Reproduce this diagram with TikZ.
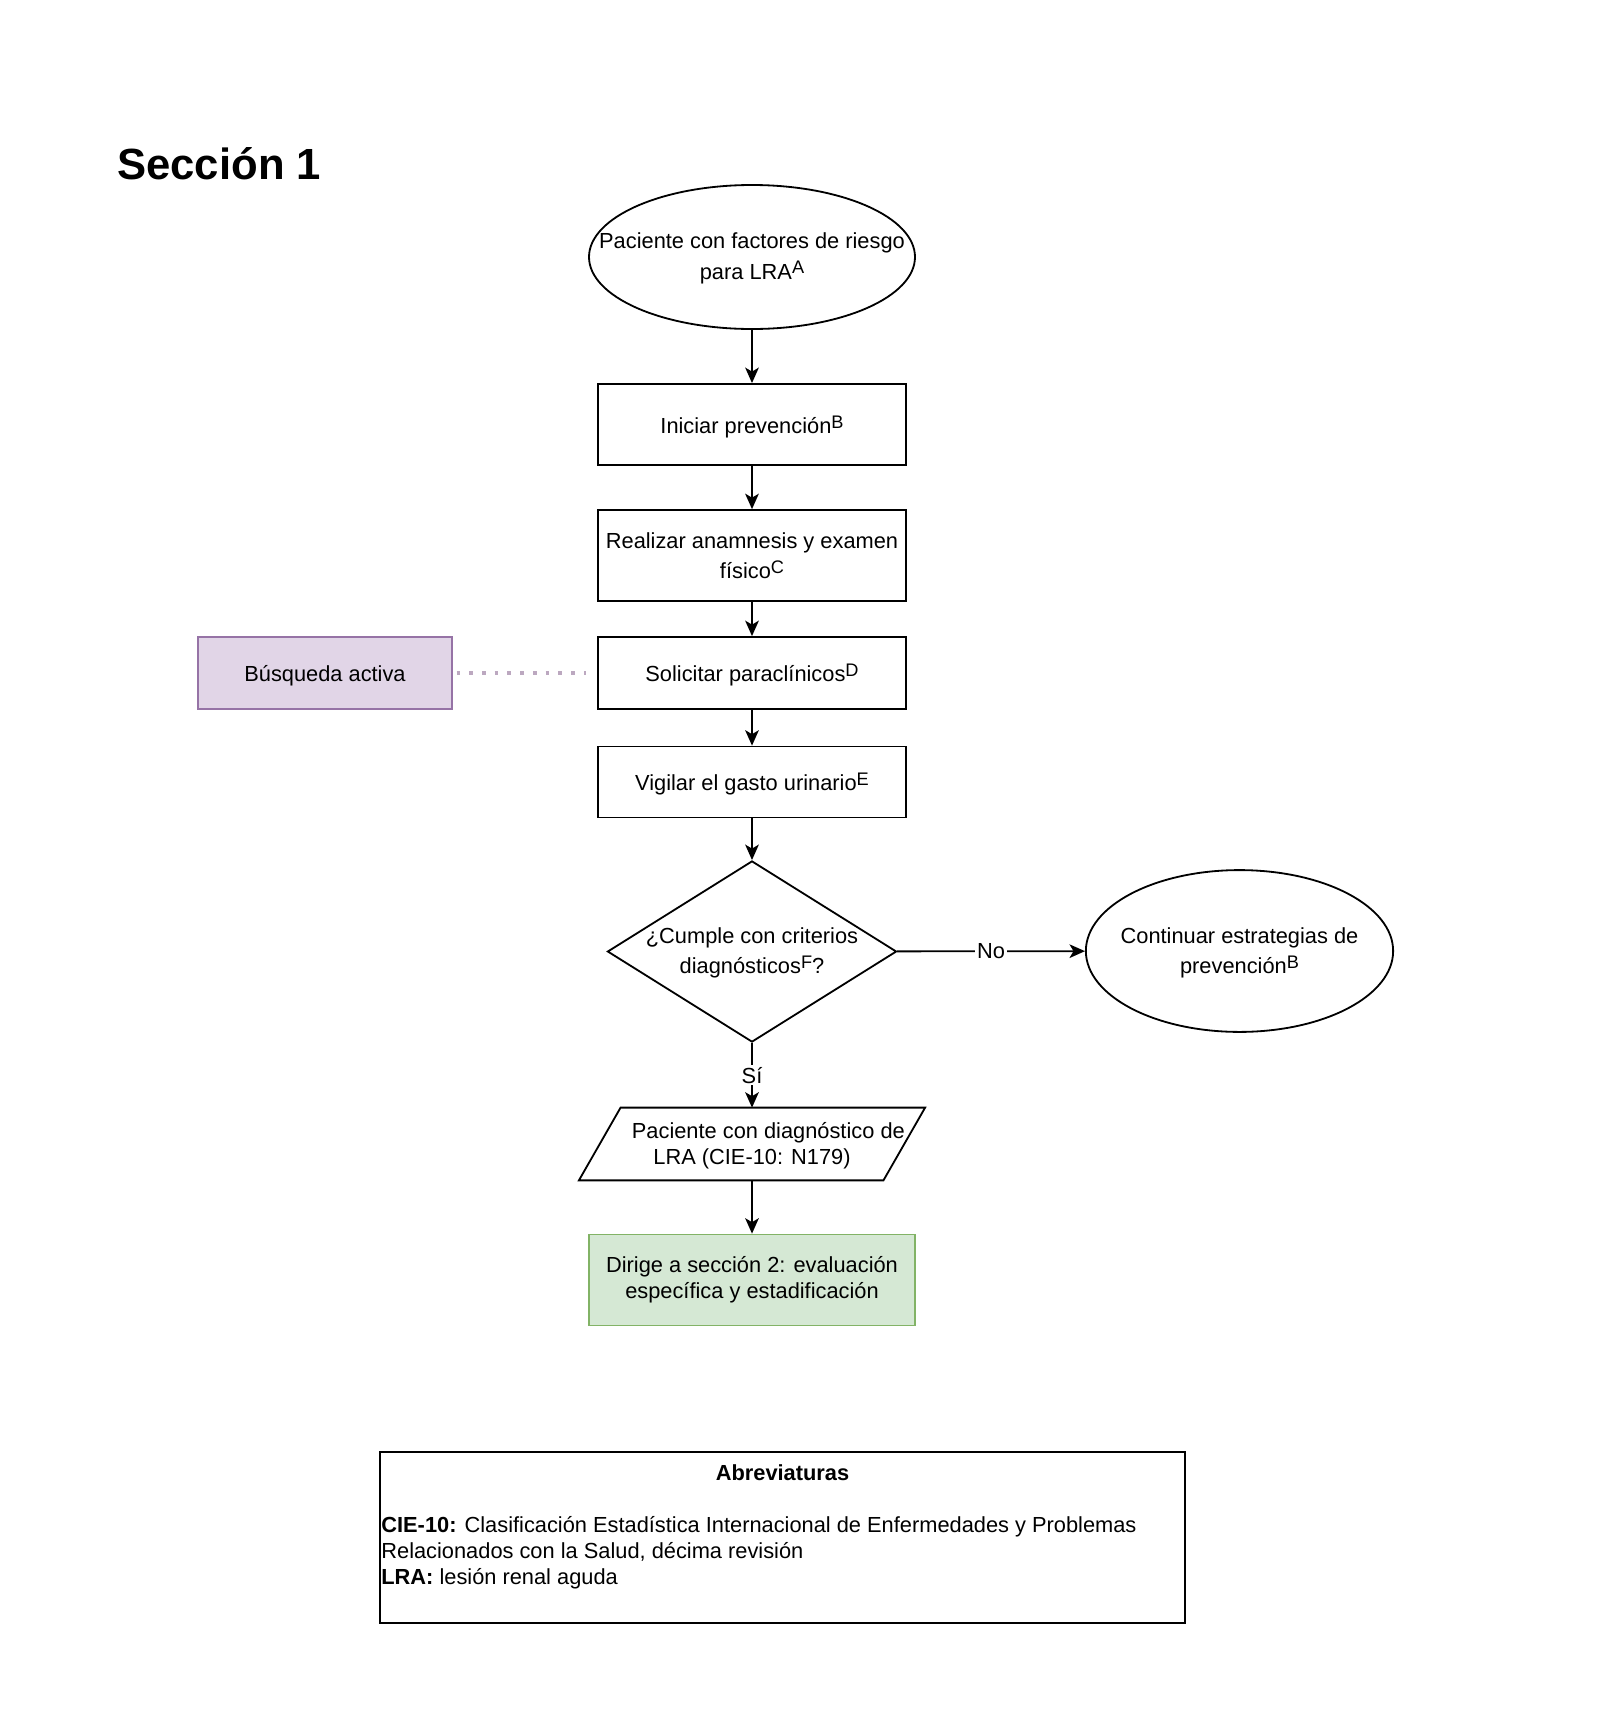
\documentclass[tikz,border=0pt]{standalone}
\usepackage{fontspec}
\setmainfont{Liberation Sans}
\usetikzlibrary{positioning,shapes.geometric,arrows.meta}
\definecolor{lilafill}{HTML}{E1D5E7}
\definecolor{liladraw}{HTML}{9673A6}
\definecolor{verdefill}{HTML}{D5E8D4}
\definecolor{verdedraw}{HTML}{82B366}
\definecolor{punteado}{HTML}{BCA8C0}
\newcommand{\supi}[1]{\raisebox{3pt}{\fontsize{10}{10}\selectfont #1}}

\begin{document}
\begin{tikzpicture}[
        x=0.55pt, y=-0.55pt,
        every node/.style={font=\fontsize{12}{14.4}\selectfont, text=black},
        ovalo/.style={ellipse, draw=black, line width=1pt, inner sep=0pt},
        caja/.style={rectangle, draw=black, line width=1pt, minimum width=169.7pt, align=center, text depth=0pt},
        lila/.style={rectangle, draw=liladraw, fill=lilafill, line width=1pt, minimum width=139.7pt, minimum height=39.6pt, text depth=0pt},
        verde/.style={rectangle, draw=verdedraw, fill=verdefill, line width=1pt, minimum width=179.3pt, minimum height=50pt, align=center},
        rombo/.style={diamond, draw=black, line width=1pt, minimum width=159pt, minimum height=99.6pt, inner sep=0pt},
        paralelo/.style={rectangle, inner sep=0pt, minimum width=190pt, minimum height=39.6pt},
        texto/.style={align=center, inner sep=0pt},
        flecha/.style={-{Stealth[length=8.5pt,width=7.5pt,inset=2.2pt]}, line width=1pt}
    ]
    \useasboundingbox (0,0) rectangle (1600,1716);

    % Title
    \node[font=\fontsize{24}{28}\selectfont\bfseries, anchor=west, inner sep=0pt] (titulo) at (117,164) {Sección 1};

    % Main column
    \node[ovalo, minimum width=179.3pt, minimum height=79.2pt] (inicio) at (752,257) {};
    \node[texto] (inicio-txt) at ([yshift=-0.6pt]inicio) {Paciente con factores de riesgo\\[2.4pt]para LRA\supi{A}};
    \node[caja, minimum height=44.6pt] (prev) at (752,424.5) {Iniciar prevención\supi{B}};
    \node[caja, minimum height=50pt] (anam) at (752,555.5) {Realizar anamnesis y examen\\[2.4pt]físico\supi{C}};
    \node[caja, minimum height=39.6pt] (solic) at (752,673) {Solicitar paraclínicos\supi{D}};
    \node[lila] (busq) at (325,673) {Búsqueda activa};
    \node[caja, minimum height=39pt] (vigil) at (752,782) {Vigilar el gasto urinario\supi{E}};
    \node[rombo] (crit) at (752,951.5) {};
    \node[texto] (crit-txt) at ([yshift=-0.8pt]crit) {¿Cumple con criterios\\[2.2pt]diagnósticos\supi{F}?};
    \node[ovalo, minimum width=169pt, minimum height=89pt] (cont) at (1239.5,951) {};
    \node[texto] (cont-txt) at ([yshift=-1pt]cont) {Continuar estrategias de\\[2.2pt]prevención\supi{B}};
    \node[paralelo] (diag) at (752,1144) {};
    \draw[line width=1pt] ([xshift=22.9pt]diag.north west) -- (diag.north east)
        -- ([xshift=-22.9pt]diag.south east) -- (diag.south west) -- cycle;
    \node[texto] (diag-txt) at ([yshift=-1pt]diag) {\hspace*{18pt}Paciente con diagnóstico de\\LRA (CIE-10: N179)};
    \node[verde] (sec2) at (752,1280) {Dirige a sección 2: evaluación\\específica y estadificación};

    \draw[flecha] (inicio) -- (prev);
    \draw[flecha] (prev) -- (anam);
    \draw[flecha] (anam) -- (solic);
    \draw[flecha] (solic) -- (vigil);
    \draw[flecha] (vigil) -- (crit);
    \draw[flecha] (crit) -- node[fill=white, inner sep=1pt] (no) {No} (cont);
    \draw[flecha] (crit) -- node[fill=white, inner sep=1pt] (si) {Sí} (diag);
    \draw[flecha] (diag) -- (sec2);
    \draw[punteado, line width=2pt, dash pattern=on 2pt off 5pt] ([xshift=2pt]busq.east) -- ([xshift=-6pt]solic.west);

    % Abbreviations
    \node[caja, minimum width=442.8pt, minimum height=94pt] (abrev) at (782.5,1537.5) {};
    \node[font=\fontsize{12}{14.4}\selectfont\bfseries] (abrev-tit) at (782.5,1473) {Abreviaturas};
    \node[anchor=west, align=left, inner sep=0pt] (abrev-txt) at (381,1553) {\textbf{CIE-10:} Clasificación Estadística Internacional de Enfermedades y Problemas\\Relacionados con la Salud, décima revisión\\\textbf{LRA:} lesión renal aguda};
\end{tikzpicture}
\end{document}
